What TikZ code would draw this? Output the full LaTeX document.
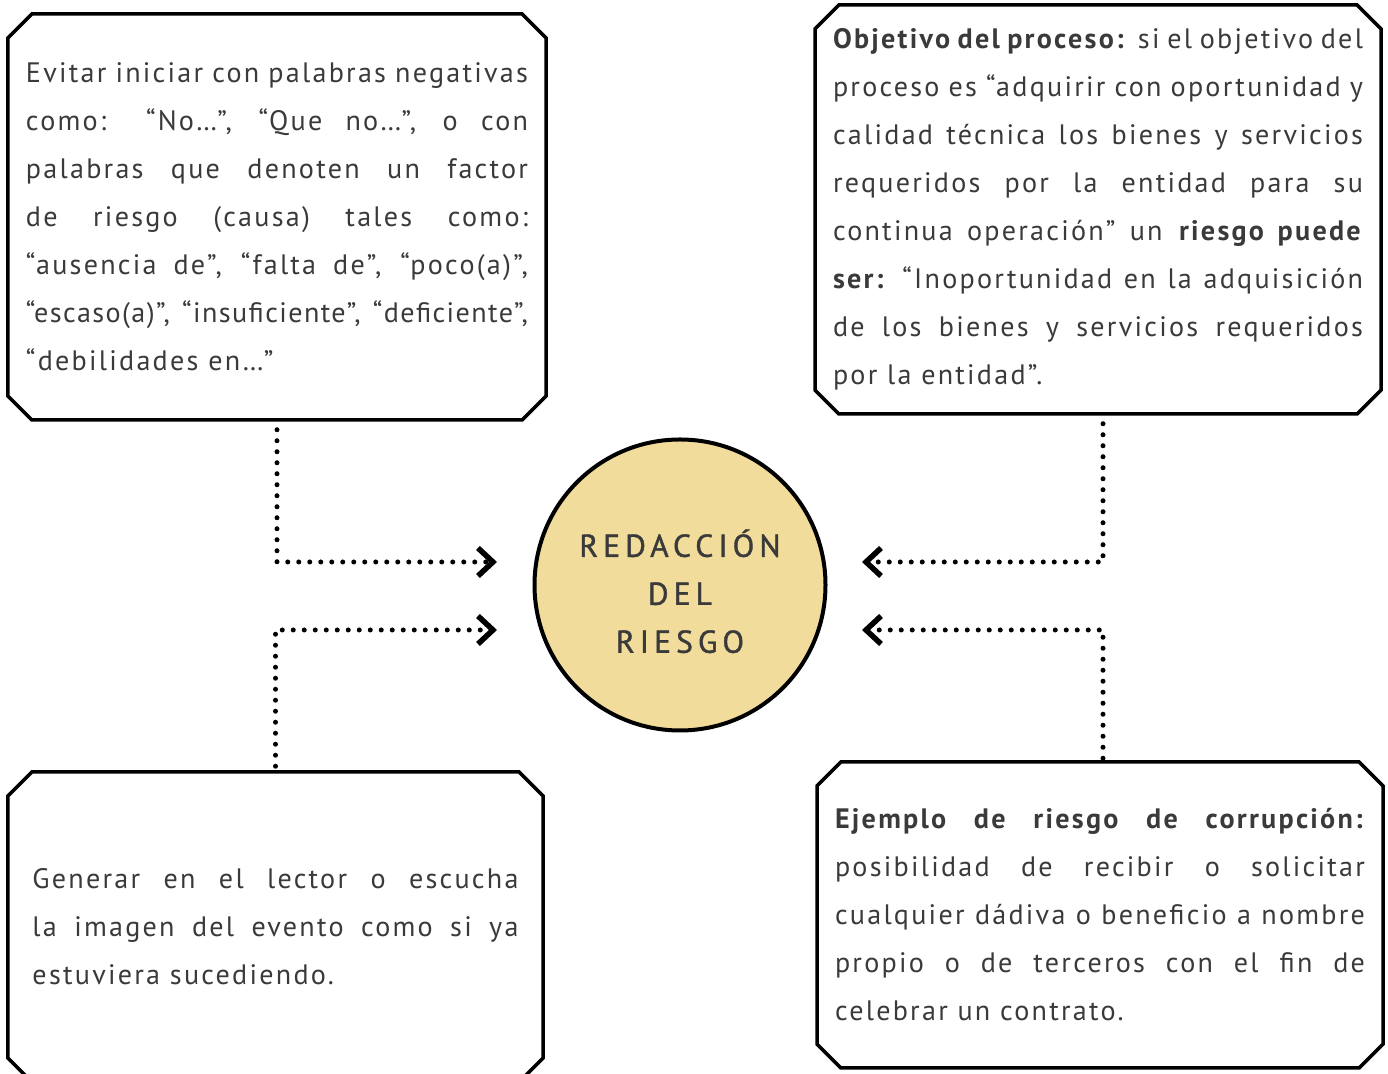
\documentclass[tikz,border=0pt]{standalone}
\usepackage{fontspec}
\setmainfont{PT Sans}
\usepackage{xcolor}
\usepackage{tikz}
\usetikzlibrary{arrows.meta}
\usetikzlibrary{shapes.misc, calc}

\definecolor{textgray}{HTML}{3A3A3A}
\definecolor{circlefill}{HTML}{F1DC9B}
\newfontfamily\boxfont[LetterSpace=8]{PT Sans}
\newfontfamily\circlefont[LetterSpace=16,FakeBold=1.2]{PT Sans}
\hyphenpenalty=10000
\exhyphenpenalty=10000

\tikzset{
    infobox/.style={chamfered rectangle, chamfered rectangle xsep=0.36cm, draw=black,
        line width=0.07cm, text=textgray, align=justify, inner sep=0pt,
        font=\boxfont\fontsize{16}{27.3}\selectfont},
    dotline/.style={line width=0.1cm, line cap=round, dash pattern=on 0pt off 0.22cm,
        -{Straight Barb[length=0.3cm,width=0.56cm,line width=0.11cm]}}
}

\begin{document}
\begin{tikzpicture}
    \useasboundingbox (0,0) rectangle (27.76,21.48);

    % central circle
    \node[circle, draw=black, line width=0.08cm, fill=circlefill, minimum size=5.82cm,
        inner sep=0pt, align=center, text=textgray,
        font=\circlefont\fontsize{18}{27.3}\selectfont] (redaccion) at (13.6,9.78)
        {\rule{0pt}{0.8cm}REDACCIÓN\\DEL\\RIESGO};

    % top left
    \node[infobox, minimum width=10.68cm, minimum height=8.12cm, text width=10.04cm] (evitar) at (5.54,17.14)
        {Evitar iniciar con palabras negativas\linebreak
        como: “No…”, “Que no…”, o con\linebreak
        palabras que denoten un factor\linebreak
        de riesgo (causa) tales como:\linebreak
        “ausencia de”, “falta de”, “poco(a)”,\linebreak
        {\addfontfeatures{LetterSpace=5}“escaso(a)”, “insuficiente”, “deficiente”,}\linebreak
        “debilidades en…”};

    % top right
    \node[infobox, minimum width=11.28cm, minimum height=8.18cm, text width=10.6cm] (objetivo) at (21.96,17.29)
        {\textbf{Objetivo del proceso:} si el objetivo del\linebreak
        proceso es “adquirir con oportunidad y\linebreak
        calidad técnica los bienes y servicios\linebreak
        requeridos por la entidad para su\linebreak
        continua operación” un \textbf{riesgo puede}\linebreak
        \textbf{ser:} “Inoportunidad en la adquisición\linebreak
        de los bienes y servicios requeridos\linebreak
        por la entidad”.};

    % bottom left
    \node[infobox, minimum width=10.7cm, minimum height=6.2cm, text width=9.72cm] (generar) at (5.51,2.94)
        {Generar en el lector o escucha\linebreak
        la imagen del evento como si ya\linebreak
        estuviera sucediendo.};

    % bottom right
    \node[infobox, minimum width=11.28cm, minimum height=6.12cm, text width=10.6cm] (ejemplo) at (22.0,3.18)
        {\textbf{Ejemplo de riesgo de corrupción:}\linebreak
        posibilidad de recibir o solicitar\linebreak
        cualquier dádiva o beneficio a nombre\linebreak
        propio o de terceros con el fin de\linebreak
        celebrar un contrato.};

    % dotted connectors
    \coordinate (evitar end) at (9.94,10.24);
    \coordinate (generar end) at (9.94,8.88);
    \coordinate (objetivo end) at (17.24,10.24);
    \coordinate (ejemplo end) at (17.24,8.88);

    \draw[dotline] ([yshift=-0.16cm]evitar.south) |- (evitar end);
    \draw[dotline] ([yshift=0.08cm]generar.north) |- (generar end);
    \draw[dotline] ([xshift=0.1cm,yshift=-0.16cm]objetivo.south) |- (objetivo end);
    \draw[dotline] ([xshift=0.06cm,yshift=0.04cm]ejemplo.north) |- (ejemplo end);
\end{tikzpicture}
\end{document}
